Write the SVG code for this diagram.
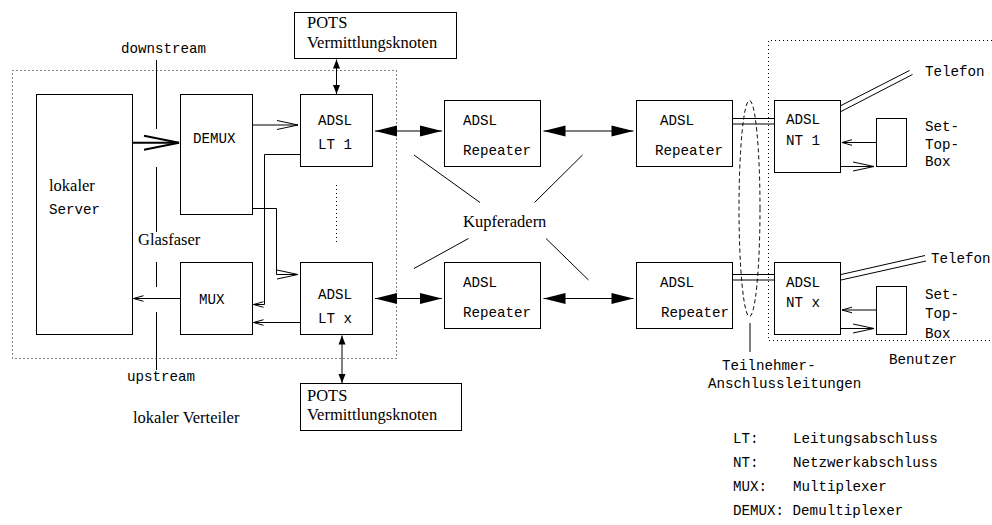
<svg xmlns="http://www.w3.org/2000/svg" width="992" height="525" viewBox="0 0 992 525">
  <style>
    .box { fill: #fff; stroke: #000; stroke-width: 1; }
    .ln { fill: none; stroke: #000; stroke-width: 1; }
    .thick { fill: none; stroke: #000; stroke-width: 2; }
    .dot { fill: none; stroke: #000; stroke-width: 1; stroke-dasharray: 1 3; }
    .dash { fill: none; stroke: #000; stroke-width: 1; stroke-dasharray: 4 3; }
    .mono { font-family: "Liberation Mono", "Courier New", monospace; font-size: 14.2px; fill: #000; }
    .serif { font-family: "Liberation Serif", "Times New Roman", serif; font-size: 16.5px; fill: #000; }
  </style>
  <defs>
    <marker id="fillBig" markerUnits="userSpaceOnUse" viewBox="-24 -8 26 16" markerWidth="26" markerHeight="16" refX="0" refY="0" orient="auto-start-reverse">
      <path d="M0,0 L-22,-5.5 L-22,5.5 Z" fill="#000"/>
    </marker>
    <marker id="fillSmall" markerUnits="userSpaceOnUse" viewBox="-11 -5 13 10" markerWidth="13" markerHeight="10" refX="0" refY="0" orient="auto-start-reverse">
      <path d="M0,0 L-9,-3.5 L-9,3.5 Z" fill="#000"/>
    </marker>
    <marker id="openSmall" markerUnits="userSpaceOnUse" viewBox="-12 -5 14 10" markerWidth="14" markerHeight="10" refX="0" refY="0" orient="auto">
      <path d="M-10,-2.8 L0,0 L-10,2.8" fill="none" stroke="#000" stroke-width="1"/>
    </marker>
    <marker id="openMid" markerUnits="userSpaceOnUse" viewBox="-23 -7 25 14" markerWidth="25" markerHeight="14" refX="0" refY="0" orient="auto">
      <path d="M-21,-4.5 L0,0 L-21,4.5" fill="none" stroke="#000" stroke-width="1"/>
    </marker>
    <marker id="openThick" markerUnits="userSpaceOnUse" viewBox="-38 -10 40 20" markerWidth="40" markerHeight="20" refX="0" refY="0" orient="auto">
      <path d="M-35,-7 L0,0 L-35,7" fill="none" stroke="#000" stroke-width="2"/>
    </marker>
  </defs>

  <!-- region outlines -->
  <g id="regions">
    <rect class="dot" x="12.5" y="70.5" width="384" height="288"/>
    <path class="dot" d="M992,40.5 H768.5 V340.5 H992"/>
    <line class="dot" x1="336.5" y1="185" x2="336.5" y2="244"/>
  </g>

  <!-- nodes -->
  <g id="server">
    <rect class="box" x="36.5" y="94.5" width="96" height="240"/>
    <text class="serif" x="49" y="191">lokaler</text>
    <text class="mono" x="49" y="214">Server</text>
  </g>
  <g id="demux">
    <rect class="box" x="180.5" y="94.5" width="72" height="120"/>
    <text class="mono" x="193" y="143">DEMUX</text>
  </g>
  <g id="mux">
    <rect class="box" x="180.5" y="262.5" width="72" height="72"/>
    <text class="mono" x="199" y="304">MUX</text>
  </g>
  <g id="lt1">
    <rect class="box" x="300.5" y="94.5" width="72" height="72"/>
    <text class="mono" x="318" y="125">ADSL</text>
    <text class="mono" x="318" y="149">LT 1</text>
  </g>
  <g id="ltx">
    <rect class="box" x="300.5" y="262.5" width="72" height="72"/>
    <text class="mono" x="318" y="299">ADSL</text>
    <text class="mono" x="318" y="323">LT x</text>
  </g>
  <g id="pots-top">
    <rect class="box" x="294.5" y="12.5" width="162" height="46"/>
    <text class="serif" x="307" y="28">POTS</text>
    <text class="serif" x="307" y="48">Vermittlungsknoten</text>
  </g>
  <g id="pots-bottom">
    <rect class="box" x="300.5" y="383.5" width="161" height="47"/>
    <text class="serif" x="307" y="401">POTS</text>
    <text class="serif" x="307" y="420">Vermittlungsknoten</text>
  </g>
  <g id="rep1">
    <rect class="box" x="444.5" y="100.5" width="96" height="66"/>
    <text class="mono" x="463" y="125">ADSL</text>
    <text class="mono" x="463" y="155">Repeater</text>
  </g>
  <g id="rep2">
    <rect class="box" x="636.5" y="100.5" width="96" height="66"/>
    <text class="mono" x="660" y="125">ADSL</text>
    <text class="mono" x="655" y="155">Repeater</text>
  </g>
  <g id="rep3">
    <rect class="box" x="444.5" y="262.5" width="96" height="66"/>
    <text class="mono" x="463" y="287">ADSL</text>
    <text class="mono" x="463" y="317">Repeater</text>
  </g>
  <g id="rep4">
    <rect class="box" x="636.5" y="262.5" width="96" height="66"/>
    <text class="mono" x="660" y="287">ADSL</text>
    <text class="mono" x="661" y="317">Repeater</text>
  </g>
  <g id="nt1">
    <rect class="box" x="774.5" y="100.5" width="66" height="72"/>
    <text class="mono" x="786" y="124">ADSL</text>
    <text class="mono" x="786" y="145">NT 1</text>
  </g>
  <g id="ntx">
    <rect class="box" x="774.5" y="262.5" width="66" height="72"/>
    <text class="mono" x="786" y="287">ADSL</text>
    <text class="mono" x="786" y="307">NT x</text>
  </g>
  <g id="stb1">
    <rect class="box" x="876.5" y="118.5" width="30" height="48"/>
  </g>
  <g id="stbx">
    <rect class="box" x="876.5" y="286.5" width="30" height="48"/>
  </g>

  <!-- connectors -->
  <g id="connectors">
    <!-- fibre between server and DEMUX/MUX -->
    <path class="ln" d="M156.5,60 V129 M156.5,167 V232 M156.5,262 V287 M156.5,312 V370"/>
    <line class="thick" x1="132" y1="142.7" x2="179" y2="142.7" marker-end="url(#openThick)"/>
    <line class="ln" x1="180" y1="298.5" x2="133.5" y2="298.5" marker-end="url(#openSmall)"/>

    <!-- DEMUX / MUX to the line terminations -->
    <line class="ln" x1="252.5" y1="125" x2="298" y2="125" marker-end="url(#openMid)"/>
    <path class="ln" d="M252.5,208.5 H276.5 V274.5 H298" marker-end="url(#openMid)"/>
    <path class="ln" d="M300.5,154.5 H264.5 V304.5 H253.5" marker-end="url(#openSmall)"/>
    <line class="ln" x1="300.5" y1="322.5" x2="253.5" y2="322.5" marker-end="url(#openSmall)"/>

    <!-- POTS links -->
    <line class="ln" x1="336.5" y1="59.5" x2="336.5" y2="94" marker-start="url(#fillSmall)" marker-end="url(#fillSmall)"/>
    <line class="ln" x1="342" y1="335.5" x2="342" y2="383" marker-start="url(#fillSmall)" marker-end="url(#fillSmall)"/>

    <!-- copper pairs -->
    <line class="ln" x1="375" y1="131" x2="442" y2="131" marker-start="url(#fillBig)" marker-end="url(#fillBig)"/>
    <line class="ln" x1="543.5" y1="131" x2="633.5" y2="131" marker-start="url(#fillBig)" marker-end="url(#fillBig)"/>
    <line class="ln" x1="375" y1="298.5" x2="442" y2="298.5" marker-start="url(#fillBig)" marker-end="url(#fillBig)"/>
    <line class="ln" x1="543.5" y1="298.5" x2="633.5" y2="298.5" marker-start="url(#fillBig)" marker-end="url(#fillBig)"/>

    <!-- Kupferadern pointers -->
    <line class="ln" x1="414" y1="155" x2="480" y2="202.5"/>
    <line class="ln" x1="582.5" y1="155" x2="534.5" y2="202.5"/>
    <line class="ln" x1="468.5" y1="238.5" x2="414" y2="268.5"/>
    <line class="ln" x1="546" y1="238.5" x2="588.5" y2="280"/>

    <!-- subscriber lines -->
    <path class="ln" d="M732.5,118.5 H774.5 M732.5,124 H774.5"/>
    <path class="ln" d="M732.5,274.5 H774.5 M732.5,280 H774.5"/>
    <ellipse class="dash" cx="749.5" cy="208.5" rx="10.5" ry="108"/>
    <line class="ln" x1="750" y1="323" x2="750" y2="352"/>

    <!-- telephone pairs -->
    <path class="ln" d="M841,105.5 L909.5,70.5 M841,111.5 L912.5,74.5"/>
    <path class="ln" d="M841,274.5 L925,255.5 M841,280 L926,261"/>

    <!-- set-top box links -->
    <line class="ln" x1="876.5" y1="142.5" x2="842" y2="142.5" marker-end="url(#openSmall)"/>
    <line class="ln" x1="840.5" y1="166.5" x2="874" y2="166.5" marker-end="url(#openMid)"/>
    <line class="ln" x1="876.5" y1="310" x2="842" y2="310" marker-end="url(#openSmall)"/>
    <line class="ln" x1="840.5" y1="328.5" x2="874" y2="328.5" marker-end="url(#openMid)"/>
  </g>

  <!-- free labels -->
  <g id="labels">
    <text class="mono" x="121" y="53">downstream</text>
    <text class="mono" x="127" y="381">upstream</text>
    <text class="serif" x="138" y="245">Glasfaser</text>
    <text class="serif" x="133" y="423">lokaler Verteiler</text>
    <text class="serif" x="463" y="227">Kupferadern</text>
    <text class="mono" x="925" y="76">Telefon</text>
    <text class="mono" x="931" y="263">Telefon</text>
    <text class="mono" x="925" y="131">Set-</text>
    <text class="mono" x="925" y="148.5">Top-</text>
    <text class="mono" x="925" y="166">Box</text>
    <text class="mono" x="925" y="299">Set-</text>
    <text class="mono" x="925" y="318">Top-</text>
    <text class="mono" x="925" y="338">Box</text>
    <text class="mono" x="722" y="370">Teilnehmer-</text>
    <text class="mono" x="708" y="388">Anschlussleitungen</text>
    <text class="mono" x="889" y="364">Benutzer</text>
  </g>

  <!-- legend -->
  <g id="legend">
    <text class="mono" x="733" y="443">LT:</text>
    <text class="mono" x="793" y="443">Leitungsabschluss</text>
    <text class="mono" x="733" y="467">NT:</text>
    <text class="mono" x="793" y="467">Netzwerkabschluss</text>
    <text class="mono" x="733" y="491">MUX:</text>
    <text class="mono" x="793" y="491">Multiplexer</text>
    <text class="mono" x="733" y="515">DEMUX: Demultiplexer</text>
  </g>
</svg>
